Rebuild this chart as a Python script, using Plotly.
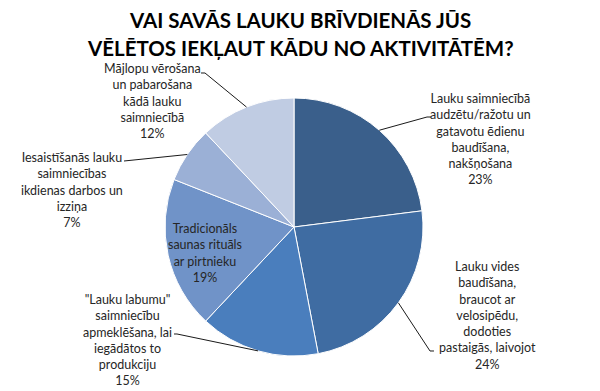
import math
import plotly.graph_objects as go

# ---- data ----
categories = [
    "Lauku saimniecībā<br>audzētu/ražotu un<br>gatavotu ēdienu<br>baudīšana,<br>nakšņošana",
    "Lauku vides<br>baudīšana,<br>braucot ar<br>velosipēdu,<br>dodoties<br>pastaigās, laivojot",
    "\"Lauku labumu\"<br>saimniecību<br>apmeklēšana, lai<br>iegādātos to<br>produkciju",
    "Tradicionāls<br>saunas rituāls<br>ar pirtnieku",
    "Iesaistīšanās lauku<br>saimniecības<br>ikdienas darbos un<br>izziņa",
    "Mājlopu vērošana<br>un pabarošana<br>kādā lauku<br>saimniecībā",
]
values = [23, 24, 15, 19, 7, 12]
colors = ["#3A5F8B", "#3F6CA2", "#4A7EBD", "#7093C8", "#9BB0D6", "#C0CCE3"]

title_lines = ["VAI SAVĀS LAUKU BRĪVDIENĀS JŪS", "VĒLĒTOS IEKĻAUT KĀDU NO AKTIVITĀTĒM?"]

# ---- layout (pixel-based, in screenshot coordinates) ----
OFF = 8                      # page body margin offset
W, H = 600 - OFF, 391 - OFF  # figure size
CX, CY, R = 294, 227, 129

# label centres (px) and leader line elbow points (px); None = inside label
label_pos = [(480, 139), (487, 315), (127, 340), (205, 253), (72, 190), (152, 101)]
leader_pts = [
    [(427, 117), (431, 117)],
    [(430, 351), (434, 351)],
    [(177, 334), (174, 334)],
    None,
    [(124, 161)],
    [(205, 73), (201, 73)],
]
title_y = [20, 48]

def px(x, y):
    return (x - OFF) / W, 1 - (y - OFF) / H

fig = go.Figure()
x0, y1 = px(CX - R, CY - R)
x1, y0 = px(CX + R, CY + R)
fig.add_trace(go.Pie(
    values=values,
    labels=[f"s{i}" for i in range(len(values))],
    sort=False,
    direction="clockwise",
    rotation=0,
    marker=dict(colors=colors, line=dict(color="white", width=1)),
    textinfo="none",
    hoverinfo="percent",
    showlegend=False,
    domain=dict(x=[x0, x1], y=[y0, y1]),
))

total = sum(values)
annotations = []
shapes = []
cum = 0
for i, v in enumerate(values):
    mid = (cum + v / 2) / total * 2 * math.pi
    cum += v
    pct = round(v / total * 100)
    lx, ly = label_pos[i]
    ax, ay = px(lx, ly)
    annotations.append(dict(
        x=ax, y=ay, xref="paper", yref="paper", xanchor="center", yanchor="middle",
        text=f"{categories[i]}<br>{pct}%", showarrow=False, align="center",
        font=dict(family="Lato, Open Sans, sans-serif", size=12.5, color="#262626"),
    ))
    if leader_pts[i] is not None:
        ex, ey = CX + R * math.sin(mid), CY - R * math.cos(mid)
        pts = [(ex, ey)] + leader_pts[i]
        path = ""
        for j, (x, y) in enumerate(pts):
            X, Y = px(x, y)
            path += ("M" if j == 0 else " L") + f" {X:.5f},{Y:.5f}"
        shapes.append(dict(type="path", path=path, xref="paper", yref="paper",
                           line=dict(color="#1a1a1a", width=1)))

for t, ty in zip(title_lines, title_y):
    tx, tyy = px(300, ty)
    annotations.append(dict(
        x=tx, y=tyy, xref="paper", yref="paper", xanchor="center", yanchor="middle",
        text=f"<b>{t}</b>", showarrow=False, align="center",
        font=dict(family="Lato, Open Sans, sans-serif", size=20.5, color="#000000"),
    ))

fig.update_layout(
    width=W, height=H,
    margin=dict(l=0, r=0, t=0, b=0),
    paper_bgcolor="white", plot_bgcolor="white",
    annotations=annotations, shapes=shapes,
)
fig.write_html("out.html")
